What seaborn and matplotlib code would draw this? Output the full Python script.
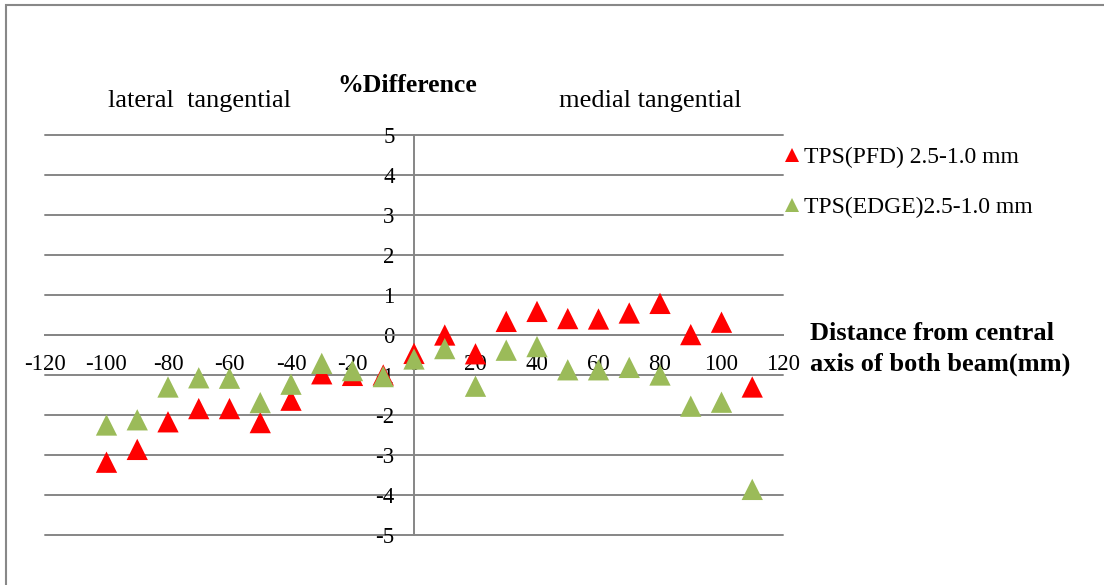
import pandas as pd
import matplotlib
matplotlib.use('Agg')
import matplotlib.pyplot as plt
from matplotlib.patches import Rectangle
import seaborn as sns

# distance from central axis (mm)
distance = [-100, -90, -80, -70, -60, -50, -40, -30, -20, -10,
            0, 10, 20, 30, 40, 50, 60, 70, 80, 90, 100, 110]

# % difference values
pfd_diff = [-3.18, -2.86, -2.17, -1.84, -1.84, -2.19, -1.63, -0.97, -1.01, -1.0,
            -0.46, 0.0, -0.47, 0.34, 0.59, 0.41, 0.40, 0.55, 0.79, 0.01, 0.32, -1.30]
edge_diff = [-2.25, -2.12, -1.30, -1.07, -1.08, -1.69, -1.23, -0.71, -0.89, -1.04,
             -0.60, -0.34, -1.28, -0.38, -0.29, -0.87, -0.87, -0.81, -1.0, -1.78, -1.68, -3.86]

series_names = ['TPS(PFD) 2.5-1.0 mm', 'TPS(EDGE)2.5-1.0 mm']
colors = ['#FF0000', '#9BBB59']

df = pd.DataFrame({
    'distance': distance * 2,
    'diff': pfd_diff + edge_diff,
    'series': [series_names[0]] * len(distance) + [series_names[1]] * len(distance),
})

sns.set_style('white')
plt.rcParams['font.family'] = ['Liberation Serif', 'DejaVu Serif']
plt.rcParams['axes.unicode_minus'] = False
plt.rcParams['text.color'] = 'black'
plt.rcParams['xtick.color'] = 'black'
plt.rcParams['ytick.color'] = 'black'

fig = plt.figure(figsize=(11.04, 5.85), dpi=100)
ax = fig.add_axes([45 / 1104, 1 - 535 / 585, (783 - 45) / 1104, 400 / 585])

grid_col = '#868686'
for yv in range(-5, 6):
    ax.axhline(yv, color=grid_col, lw=1.4, zorder=0, clip_on=False)

sns.scatterplot(data=df, x='distance', y='diff', hue='series', palette=colors,
                marker='^', s=235, edgecolor='none', linewidth=0, ax=ax, zorder=3)

ax.set_xlim(-120, 120)
ax.set_ylim(-5, 5)
ax.set_xticks(range(-120, 121, 20))
ax.set_yticks(range(-5, 6))

for side in ['top', 'right']:
    ax.spines[side].set_visible(False)
ax.spines['left'].set_position(('data', 0))
ax.spines['bottom'].set_position(('data', 0))
for side in ['left', 'bottom']:
    ax.spines[side].set_color(grid_col)
    ax.spines[side].set_linewidth(1.4)
    ax.spines[side].set_zorder(1)

ax.tick_params(axis='x', direction='out', length=4.5, width=1.4, color=grid_col,
               labelcolor='black', labelsize=16.5, pad=9)
ax.tick_params(axis='y', length=0, labelcolor='black', labelsize=16.5, pad=14)
ax.set_xlabel('')
ax.set_ylabel('')

ax.legend(loc='upper left', bbox_to_anchor=(0.99, 0.995), frameon=False,
          fontsize=17, markerscale=0.7, handlelength=0.6, handletextpad=0.2,
          labelspacing=1.2, borderaxespad=0)

fig.text(407 / 1104, 1 - 85 / 585, '%Difference', ha='center', va='center',
         fontsize=18.5, fontweight='bold')
fig.text(199 / 1104, 1 - 101 / 585, 'lateral  tangential', ha='center', va='center',
         fontsize=19)
fig.text(650 / 1104, 1 - 101 / 585, 'medial tangential', ha='center', va='center',
         fontsize=19)
fig.text(810 / 1104, 1 - 349 / 585, 'Distance from central\naxis of both beam(mm)',
         ha='left', va='center', fontsize=19, fontweight='bold', linespacing=1.42)

# outer chart frame
fig.add_artist(Rectangle((6 / 1104, -0.2), 2, 1.2 - 5 / 585, transform=fig.transFigure,
                         fill=False, edgecolor='#888888', lw=1.5))

fig.savefig('out.png', dpi=100)
